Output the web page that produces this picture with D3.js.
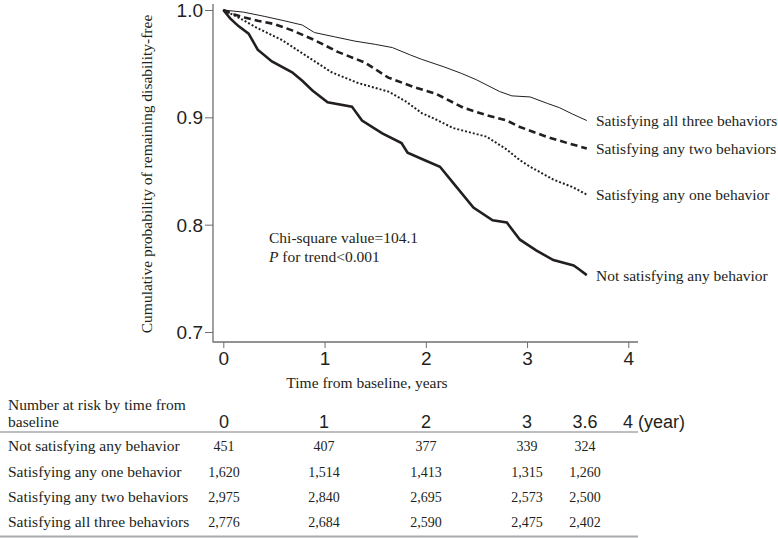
<!DOCTYPE html>
<html>
<head>
<meta charset="utf-8">
<script src="https://cdn.jsdelivr.net/npm/d3@7"></script>
<style>
  body { margin: 0; background: #fff; }
  svg { display: block; }
</style>
</head>
<body>
<div id="chart"></div>
<script>
// survival curves: [years, probability]
const allThree = [[0,1],[0.2,0.998],[0.41,0.994],[0.6,0.99],[0.78,0.986],[0.9,0.979],[1.1,0.975],[1.3,0.971],[1.5,0.968],[1.67,0.965],[1.85,0.958],[1.96,0.954],[2.18,0.947],[2.35,0.941],[2.5,0.935],[2.73,0.924],[2.85,0.92],[3.03,0.919],[3.2,0.913],[3.32,0.909],[3.45,0.903],[3.59,0.897]];
const anyTwo = [[0,1],[0.1,0.996],[0.21,0.993],[0.34,0.99],[0.5,0.987],[0.68,0.981],[0.9,0.972],[1.13,0.961],[1.4,0.951],[1.63,0.937],[1.89,0.928],[2.1,0.922],[2.37,0.909],[2.6,0.902],[2.8,0.897],[2.93,0.891],[3.19,0.882],[3.4,0.876],[3.59,0.871]];
const anyOne = [[0,1],[0.15,0.993],[0.34,0.983],[0.58,0.972],[0.84,0.956],[1.07,0.942],[1.33,0.932],[1.63,0.924],[1.8,0.915],[1.96,0.904],[2.1,0.898],[2.27,0.89],[2.6,0.882],[2.8,0.87],[2.93,0.86],[3.03,0.854],[3.26,0.842],[3.45,0.835],[3.59,0.828]];
const noneCurve = [[0,1],[0.07,0.992],[0.15,0.985],[0.25,0.978],[0.34,0.963],[0.48,0.952],[0.68,0.942],[0.78,0.934],[0.88,0.925],[1.03,0.914],[1.27,0.91],[1.37,0.897],[1.57,0.885],[1.76,0.876],[1.82,0.867],[1.99,0.86],[2.14,0.854],[2.27,0.839],[2.47,0.816],[2.66,0.804],[2.8,0.802],[2.93,0.786],[3.09,0.776],[3.26,0.767],[3.46,0.762],[3.52,0.758],[3.59,0.753]];

const seriesNames = ["Satisfying all three behaviors", "Satisfying any two behaviors", "Satisfying any one behavior", "Not satisfying any behavior"];
const seriesData = [allThree, anyTwo, anyOne, noneCurve];

const yTicks = [0.7, 0.8, 0.9, 1.0];
const xTicks = [0, 1, 2, 3, 4];

// number-at-risk table
const riskTimes = ["0", "1", "2", "3", "3.6"];
const riskRows = ["Not satisfying any behavior", "Satisfying any one behavior", "Satisfying any two behaviors", "Satisfying all three behaviors"];
const riskNone = ["451", "407", "377", "339", "324"];
const riskOne = ["1,620", "1,514", "1,413", "1,315", "1,260"];
const riskTwo = ["2,975", "2,840", "2,695", "2,573", "2,500"];
const riskAll = ["2,776", "2,684", "2,590", "2,475", "2,402"];
const riskValues = [riskNone, riskOne, riskTwo, riskAll];

const W = 778, H = 538;
const serif = "'Liberation Serif', 'Times New Roman', serif";
const sans = "'Liberation Sans', Arial, sans-serif";
const ink = "#231f20";
const axisGrey = "#6d6e70";

const svg = d3.select("#chart").append("svg")
    .attr("width", W)
    .attr("height", H);

const x = d3.scaleLinear().domain([0, 4]).range([223.3, 628.3]);
const y = d3.scaleLinear().domain([0.7, 1.0]).range([332, 10]);

// axis_y
const gy = svg.append("g").attr("class", "axis_y")
    .attr("transform", "translate(213,0)")
    .call(d3.axisLeft(y).tickValues(yTicks).tickFormat(d3.format(".1f")).tickSizeOuter(0).tickSize(8).tickPadding(2));
gy.select(".domain").attr("d", "M0,4V342.5");
gy.selectAll("line").attr("stroke", axisGrey);
gy.select(".domain").attr("stroke", axisGrey).attr("stroke-width", 1.3);
gy.selectAll("text").attr("font-family", sans).attr("font-size", 19).attr("fill", ink).attr("dy", "0.35em");

// axis_x
const gx = svg.append("g").attr("class", "axis_x")
    .attr("transform", "translate(0,342)")
    .call(d3.axisBottom(x).tickValues(xTicks).tickFormat(d3.format("d")).tickSizeOuter(0).tickSize(6).tickPadding(4));
gx.select(".domain").attr("d", "M213,0H638").attr("stroke", axisGrey).attr("stroke-width", 1.3);
gx.selectAll("line").attr("stroke", axisGrey);
gx.selectAll("text").attr("font-family", sans).attr("font-size", 19).attr("fill", ink);

svg.append("text")
    .text("Time from baseline, years")
    .attr("x", 367).attr("y", 388)
    .attr("text-anchor", "middle")
    .attr("font-family", serif).attr("font-size", 15.5).attr("fill", ink);

svg.append("text")
    .text("Cumulative probability of remaining disability-free")
    .attr("transform", "translate(152,174) rotate(-90)")
    .attr("text-anchor", "middle")
    .attr("font-family", serif).attr("font-size", 15.5).attr("fill", ink);

// curves
const styles = [
    {width: 1, dash: null},
    {width: 2.6, dash: "7,4"},
    {width: 2, dash: "2,2"},
    {width: 2.6, dash: null}
];
const line = d3.line().x(d => x(d[0])).y(d => y(d[1]));
svg.append("g").attr("class", "curves")
    .selectAll("path")
    .data(seriesData)
    .join("path")
    .attr("d", line)
    .attr("fill", "none")
    .attr("stroke", ink)
    .attr("stroke-width", (d, i) => styles[i].width)
    .attr("stroke-dasharray", (d, i) => styles[i].dash);

// curve labels
svg.append("g").attr("class", "curve_labels")
    .selectAll("text")
    .data(seriesNames)
    .join("text")
    .text(d => d)
    .attr("x", 596)
    .attr("y", (d, i) => y(seriesData[i][seriesData[i].length - 1][1]))
    .attr("dy", "0.35em")
    .attr("font-family", serif).attr("font-size", 15.5).attr("fill", ink);

// annotation
const note = svg.append("text")
    .attr("font-family", serif).attr("font-size", 15.5).attr("fill", ink);
note.append("tspan").attr("x", 269).attr("y", 243).text("Chi-square value=104.1");
const p = note.append("tspan").attr("x", 269).attr("y", 262);
p.append("tspan").attr("font-style", "italic").text("P");
p.append("tspan").text(" for trend<0.001");

// number at risk table
const table = svg.append("g").attr("class", "risk_table");
table.append("text").text("Number at risk by time from")
    .attr("x", 8).attr("y", 410)
    .attr("font-family", serif).attr("font-size", 15.5).attr("fill", ink);
table.append("text").text("baseline")
    .attr("x", 8).attr("y", 427)
    .attr("font-family", serif).attr("font-size", 15.5).attr("fill", ink);

const colX = [224, 324, 426, 527, 585];
table.selectAll("text.head")
    .data(riskTimes)
    .join("text").attr("class", "head")
    .text(d => d)
    .attr("x", (d, i) => colX[i]).attr("y", 428)
    .attr("text-anchor", "middle")
    .attr("font-family", sans).attr("font-size", 18).attr("fill", ink);
table.append("text").text("4 (year)")
    .attr("x", 623).attr("y", 428)
    .attr("font-family", sans).attr("font-size", 18).attr("fill", ink);

table.append("line")
    .attr("x1", 0).attr("x2", 638).attr("y1", 432).attr("y2", 432)
    .attr("stroke", "#a7a9ac").attr("stroke-width", 1.5);
table.append("line")
    .attr("x1", 0).attr("x2", 638).attr("y1", 536.5).attr("y2", 536.5)
    .attr("stroke", "#a7a9ac").attr("stroke-width", 2);

const rowY = [446, 472, 497, 522];
riskRows.forEach((name, r) => {
    table.append("text").text(name)
        .attr("x", 8).attr("y", rowY[r]).attr("dy", "0.35em")
        .attr("font-family", serif).attr("font-size", 15.5).attr("fill", ink);
    table.selectAll("text.v" + r)
        .data(riskValues[r])
        .join("text").attr("class", "v" + r)
        .text(d => d)
        .attr("x", (d, i) => colX[i]).attr("y", rowY[r]).attr("dy", "0.35em")
        .attr("text-anchor", "middle")
        .attr("font-family", serif).attr("font-size", 14).attr("fill", ink);
});
</script>
</body>
</html>
